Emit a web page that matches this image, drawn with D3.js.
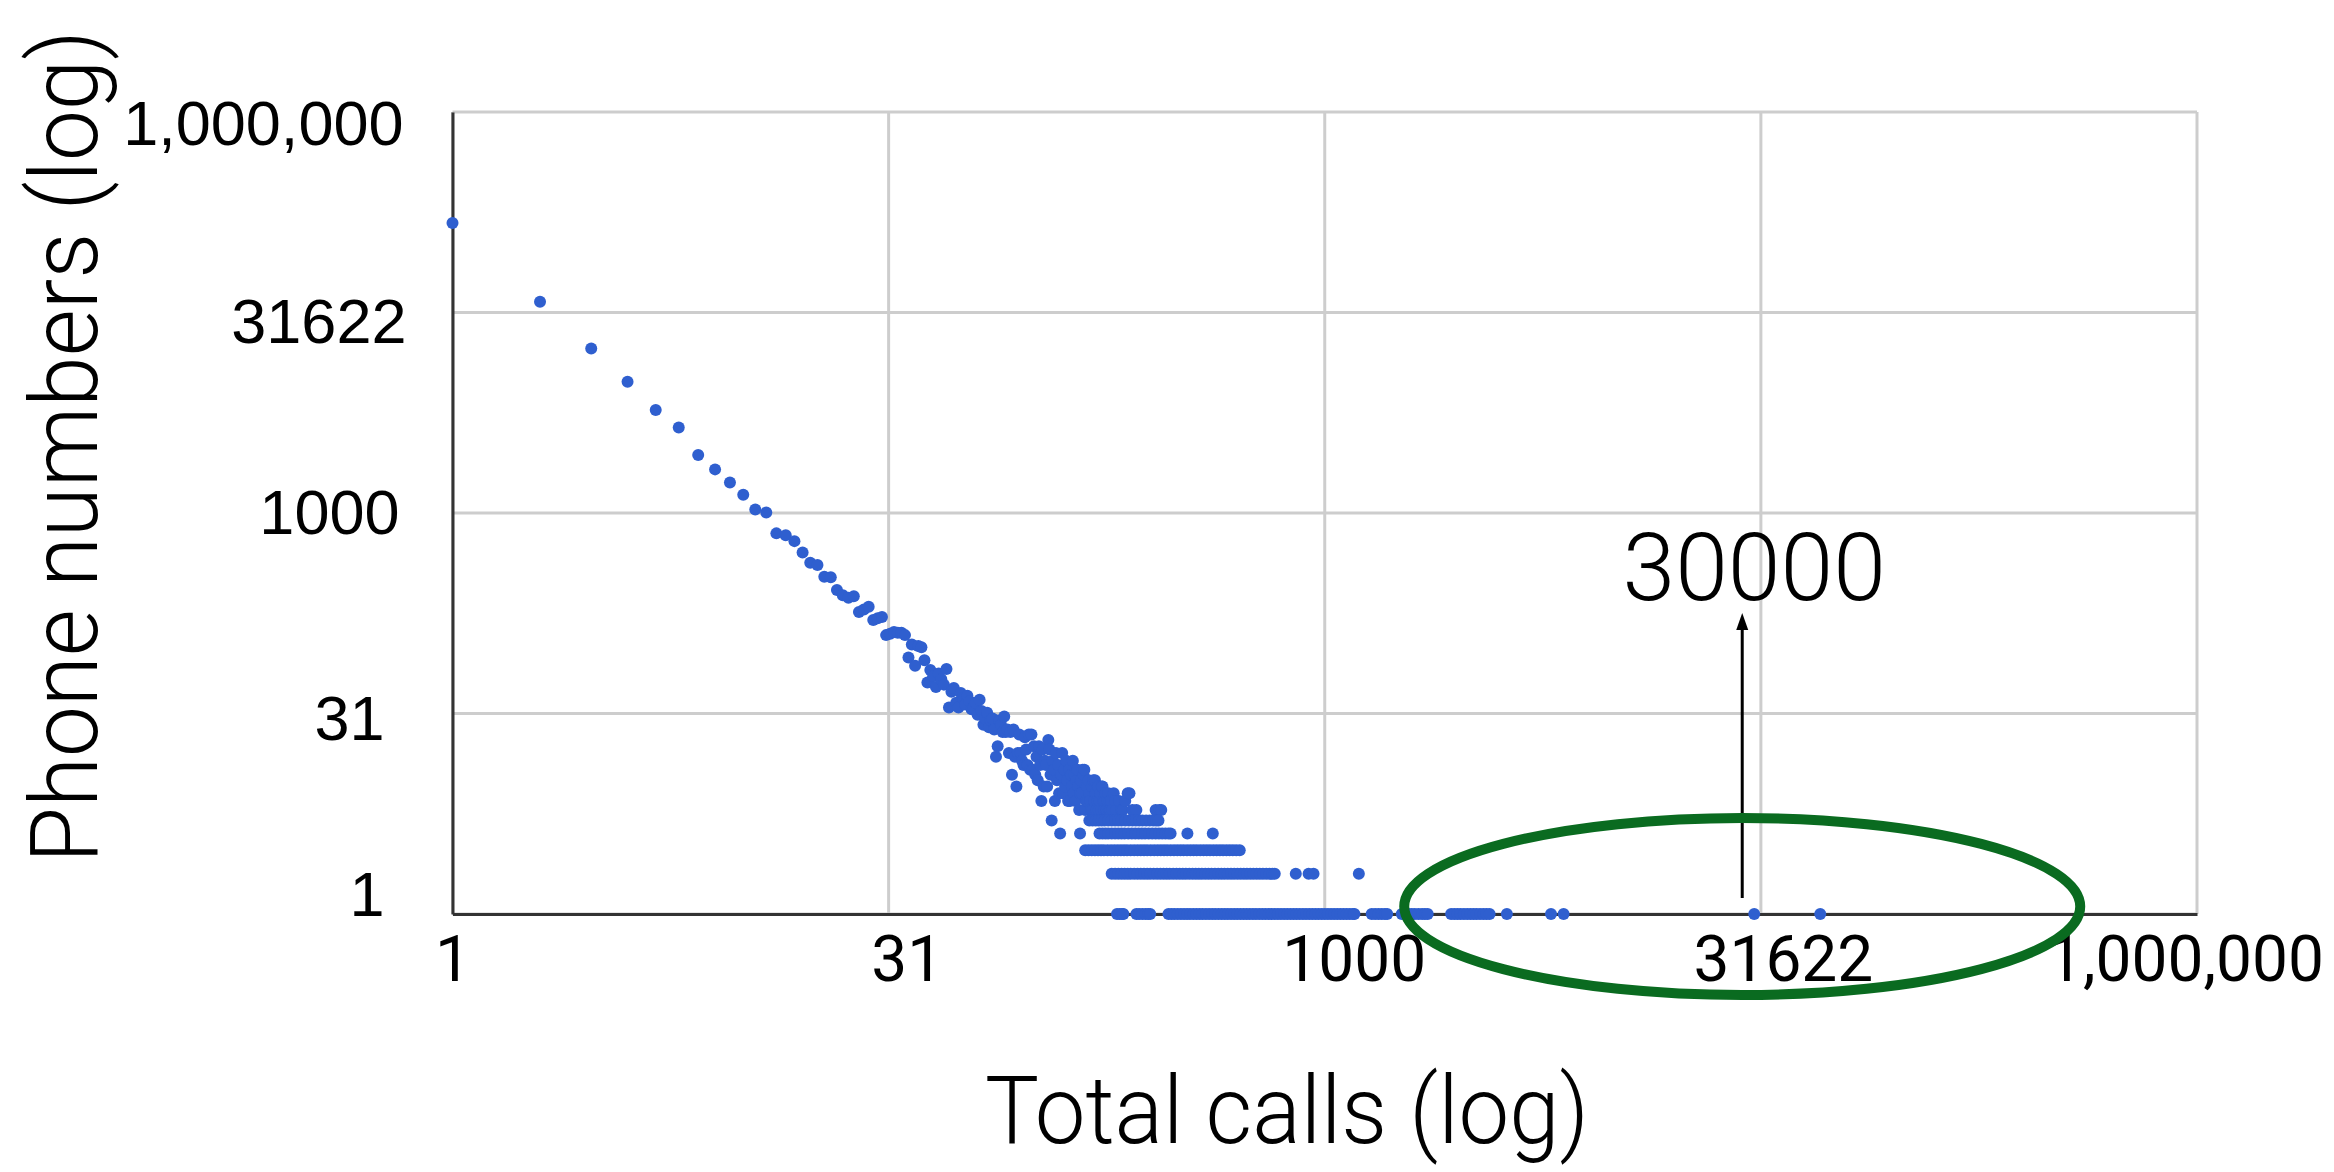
<!DOCTYPE html>
<html>
<head>
<meta charset="utf-8">
<script src="https://cdn.jsdelivr.net/npm/d3@7"></script>
<style>
  html, body { margin: 0; padding: 0; background: #ffffff; }
  svg { display: block; }
</style>
</head>
<body>
<svg id="chart" width="2334" height="1172"></svg>
<script>
// Axis ticks (half-decade steps on both log axes)
const xTickValues = [1, 31.6227766, 1000, 31622.7766, 1000000];
const xTickLabels = ["1", "31", "1000", "31622", "1,000,000"];
const yTickValues = [1, 31.6227766, 1000, 31622.7766, 1000000];
const yTickLabels = ["1", "31", "1000", "31622", "1,000,000"];

// Phone numbers per call total: the sloping part of the distribution
const diagCalls = [
  1,2,3,4,5,6,7,8,9,10,11,12,13,14,15,16,17,18,19,20,
  21,22,23,24,25,26,27,28,29,30,31,32,33,34,35,36,37,38,39,40,
  41,42,43,44,45,46,47,48,49,50,51,52,53,54,55,56,57,58,59,60,
  61,62,63,64,65,66,67,68,69,70,71,72,73,74,75,76,77,78,79,80,
  81,82,83,84,85,86,87,88,89,90,91,92,93,94,95,96,97,98,99,100,
  101,102,103,104,105,106,107,108,109,110,111,112,113,114,115,116,117,118,119,120,
  121,122,123,124,125,126,127,128,129,130,131,132,133,134,135,136,137,138,139,140,
  141,142,143,144,145,146,147,148,149,150,151,152,153,154,155,156,157,158,159,160,
  161,162,163,164,165,166,167,168,169,170,171,172,173,174,175,176,177,178,179,180,
  181,182,183,184,186,188,190,192,196,200,202,206,210,213,218,225,262,270,274
];
const diagPhones = [
  148000,38000,17000,9600,5900,4370,2720,2120,1690,1370,1060,1010,704,683,616,507,424,408,333,330,
  265,242,232,238,182,190,199,158,163,167,122,125,129,127,127,122,83,104,72,101,
  99,79,54,67,60,50,63,57,52,68,35,46,49,38,35,45,41,37,43,39,
  34,35,38,31,40,33,26,29,32,25,28,29,24,15,18,28,26,23,30,23,
  24,16,23,11,24,15,9,16,22,16,14,13,21,17,13,22,12,22,12,18,
  11,15,10,18,13,7,17,9,14,13,9,20,17,11,5,14,12,7,16,10,
  13,8,4,11,16,8,12,9,14,10,7,12,7,11,9,14,8,11,7,10,
  12,9,6,8,10,8,12,11,12,6,7,9,7,10,8,7,6,9,6,10,
  7,10,8,6,7,9,6,7,8,6,9,9,7,6,7,8,6,6,7,8,
  6,7,6,7,6,8,7,6,7,6,6,7,8,8,6,6,6,6,6
];

// Call totals shared by exactly one to five phone numbers
const callsWith1 = [
  193,197,201,203,225,230,236,242,247,251,
  290,297,304,312,320,328,336,344,353,362,371,380,390,400,410,420,431,442,453,464,
  476,488,500,513,526,539,552,566,580,595,610,625,641,657,673,690,707,725,743,762,
  781,800,820,841,862,884,906,929,952,976,1000,1025,1051,1077,1104,1132,1160,1189,1219,1250,1265,
  1450,1490,1530,1570,1610,1640,
  1840,1890,1940,1990,2040,2100,2160,2210,2260,
  2720,2790,2860,2930,3010,3090,3170,3250,3330,3420,3510,3600,3690,
  4230,6000,6630,30000,50600
];
const callsWith2 = [
  185,190,195,200,205,210,215,221,227,233,239,245,251,258,265,272,279,286,293,301,
  309,317,325,333,342,351,360,369,378,388,398,408,419,430,441,452,464,476,488,501,
  514,527,540,554,568,583,598,613,629,645,661,673,795,880,915,1310
];
const callsWith3 = [
  150,154,158,162,166,170,174,179,184,189,194,199,204,209,215,221,227,233,239,245,
  252,259,266,273,280,287,295,303,311,319,327,336,345,354,363,373,383,393,403,414,
  425,436,447,459,471,483,496,510
];
const callsWith4 = [
  144,168,172,176,180,185,190,195,200,205,211,217,223,229,235,241,248,255,262,269,
  276,283,290,295,337,412
];
const callsWith5 = [
  155,159,163,167,171,175,180,185,190,195,200,206,212,218,224,230,236,243,250,257,263,268
];

// Highlighted outlier
const calloutCalls = 30000;
const calloutLabel = "30000";

// ---- assemble points ----
const points = diagCalls.map((c, i) => ({ calls: c, phones: diagPhones[i] }));
[[callsWith1, 1], [callsWith2, 2], [callsWith3, 3], [callsWith4, 4], [callsWith5, 5]]
  .forEach(([list, n]) => list.forEach(c => points.push({ calls: c, phones: n })));

// ---- layout ----
const plot = { left: 452.5, right: 2197, top: 112, bottom: 914 };
const x = d3.scaleLog().domain([1, 1e6]).range([plot.left, plot.right]);
const y = d3.scaleLog().domain([1, 1e6]).range([plot.bottom, plot.top]);

const svg = d3.select("#chart");
const lightFont = "Roboto, 'Helvetica Neue', 'Liberation Sans', Arial, sans-serif";
const plainFont = "'Liberation Sans', Arial, Helvetica, sans-serif";

// hand-set nudges of the tick labels, in tick order
const xLabelShift = [0, 18, 29, 22, -12];
const yLabelShift = [[-16, -19], [-16, 6], [-1, 0], [6, 10], [3, 12]];

// gridlines
const grid = svg.append("g").attr("stroke", "#cdcdcd").attr("stroke-width", 3);
grid.selectAll("line.v").data(xTickValues).join("line").attr("class", "v")
  .attr("x1", d => x(d)).attr("x2", d => x(d))
  .attr("y1", plot.top).attr("y2", plot.bottom);
grid.selectAll("line.h").data(yTickValues).join("line").attr("class", "h")
  .attr("x1", plot.left).attr("x2", plot.right)
  .attr("y1", d => y(d)).attr("y2", d => y(d));

// axes
const xAxis = d3.axisBottom(x)
  .tickValues(xTickValues)
  .tickFormat((d, i) => xTickLabels[i])
  .tickSize(0).tickSizeOuter(0).tickPadding(22);
const yAxis = d3.axisLeft(y)
  .tickValues(yTickValues)
  .tickFormat((d, i) => yTickLabels[i])
  .tickSize(0).tickSizeOuter(0).tickPadding(52);

svg.append("g")
  .attr("transform", `translate(0,${plot.bottom})`)
  .call(xAxis)
  .call(g => g.select(".domain").attr("stroke", "#333").attr("stroke-width", 3))
  .call(g => g.selectAll("text")
    .attr("font-family", lightFont).attr("font-weight", 400)
    .attr("font-size", 64).attr("fill", "#000")
    .attr("dx", (d, i) => xLabelShift[i]));

svg.append("g")
  .attr("transform", `translate(${plot.left},0)`)
  .call(yAxis)
  .call(g => g.select(".domain").attr("stroke", "#333").attr("stroke-width", 3))
  .call(g => g.selectAll("text")
    .attr("font-family", plainFont).attr("font-weight", 400)
    .attr("font-size", 63).attr("fill", "#000")
    .attr("transform", (d, i) => `translate(${yLabelShift[i][0]},${yLabelShift[i][1]})`));

// points
svg.append("g")
  .selectAll("circle")
  .data(points)
  .join("circle")
  .attr("cx", d => x(d.calls))
  .attr("cy", d => y(d.phones))
  .attr("r", 6)
  .attr("fill", "#2f5fcf");

// axis titles: a light face, narrowed horizontally to the title's set width
function title(text, placement, width) {
  const t = svg.append("text")
    .attr("x", 0).attr("y", 0)
    .attr("text-anchor", "middle")
    .attr("font-family", lightFont).attr("font-weight", 300)
    .attr("font-size", 95).attr("fill", "#000")
    .text(text);
  const natural = t.node().getComputedTextLength();
  t.attr("transform", `${placement} scale(${width / natural},1)`);
}
title("Total calls (log)", "translate(1287,1143)", 604);
title("Phone numbers (log)", "translate(97,446.5) rotate(-90)", 833);

// callout: arrow, value label and ring around the sparse tail
const ax = x(calloutCalls) - 12;
svg.append("line")
  .attr("x1", ax).attr("x2", ax)
  .attr("y1", 898).attr("y2", 626)
  .attr("stroke", "#000").attr("stroke-width", 3);
svg.append("path")
  .attr("d", `M${ax - 6},630 L${ax},613 L${ax + 6},630 Z`)
  .attr("fill", "#000");

svg.append("text")
  .attr("x", x(calloutCalls)).attr("y", 600)
  .attr("text-anchor", "middle")
  .attr("font-family", lightFont).attr("font-weight", 300)
  .attr("font-size", 95).attr("fill", "#000")
  .text(calloutLabel);

svg.append("ellipse")
  .attr("cx", ax).attr("cy", 906.5)
  .attr("rx", 338).attr("ry", 88.5)
  .attr("fill", "none")
  .attr("stroke", "#0a6b20")
  .attr("stroke-width", 10);
</script>
</body>
</html>
